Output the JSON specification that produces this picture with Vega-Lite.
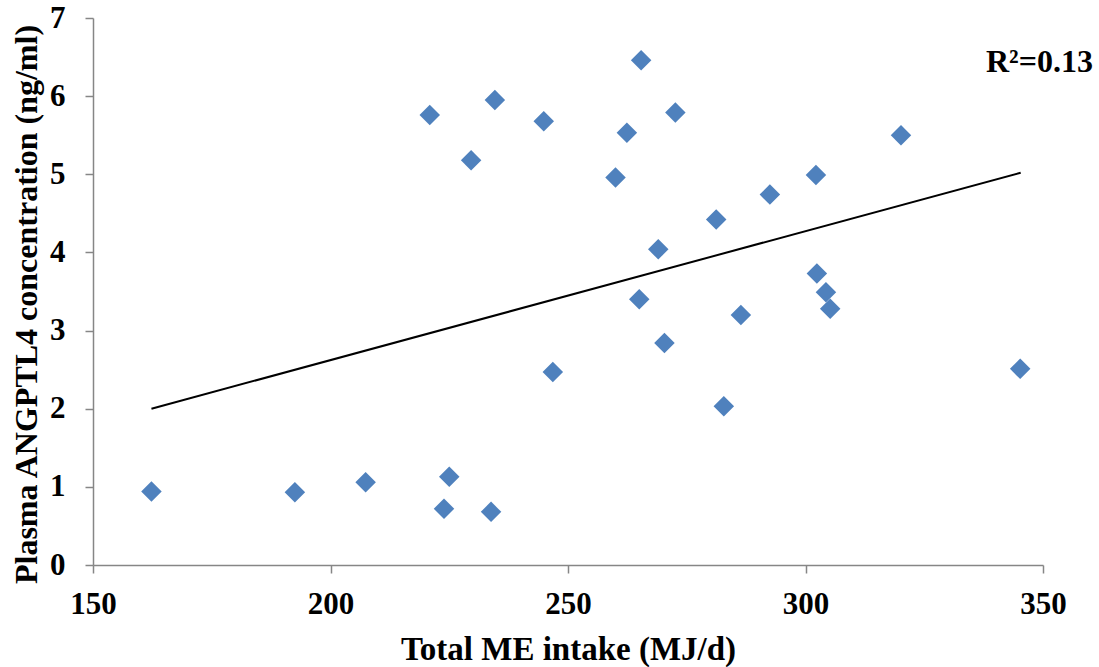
{
  "$schema": "https://vega.github.io/schema/vega-lite/v6.json",
  "width": 950,
  "height": 547,
  "autosize": {"type": "none"},
  "padding": {"left": 93, "top": 18, "right": 56, "bottom": 102},
  "background": "white",
  "datasets": {
    "points": [
      {"x": 162.3, "y": 0.94},
      {"x": 192.5, "y": 0.93},
      {"x": 207.4, "y": 1.06},
      {"x": 225.0, "y": 1.13},
      {"x": 223.9, "y": 0.72},
      {"x": 233.8, "y": 0.68},
      {"x": 220.9, "y": 5.76},
      {"x": 229.6, "y": 5.18},
      {"x": 234.6, "y": 5.95},
      {"x": 244.9, "y": 5.68},
      {"x": 246.8, "y": 2.47},
      {"x": 260.0, "y": 4.96},
      {"x": 262.4, "y": 5.53},
      {"x": 265.4, "y": 6.46},
      {"x": 265.0, "y": 3.40},
      {"x": 269.0, "y": 4.04},
      {"x": 270.3, "y": 2.84},
      {"x": 272.6, "y": 5.79},
      {"x": 281.2, "y": 4.42},
      {"x": 282.8, "y": 2.03},
      {"x": 286.4, "y": 3.20},
      {"x": 292.5, "y": 4.74},
      {"x": 302.2, "y": 4.99},
      {"x": 302.4, "y": 3.73},
      {"x": 304.3, "y": 3.49},
      {"x": 305.2, "y": 3.28},
      {"x": 320.1, "y": 5.50},
      {"x": 345.2, "y": 2.51}
    ],
    "trend": [
      {"x": 162.3, "y": 2.00},
      {"x": 345.3, "y": 5.02}
    ],
    "note": [
      {"x": 360.5, "y": 6.44, "label": "R²=0.13"}
    ]
  },
  "layer": [
    {
      "data": {"name": "trend"},
      "mark": {"type": "line", "color": "black", "strokeWidth": 2},
      "encoding": {
        "x": {
          "field": "x", "type": "quantitative",
          "scale": {"domain": [150, 350], "nice": false, "zero": false},
          "axis": {"values": [150, 200, 250, 300, 350], "format": "d", "labelFlush": false, "title": "Total ME intake (MJ/d)", "labelPadding": 16, "titlePadding": 14, "titleFontSize": 33}
        },
        "y": {
          "field": "y", "type": "quantitative",
          "scale": {"domain": [0, 7], "nice": false},
          "axis": {"values": [0, 1, 2, 3, 4, 5, 6, 7], "format": "d", "labelFlush": false, "title": "Plasma ANGPTL4 concentration (ng/ml)", "labelPadding": 20, "titlePadding": 6, "titleY": 286, "titleFontSize": 32}
        }
      }
    },
    {
      "data": {"name": "points"},
      "mark": {"type": "point", "shape": "diamond", "filled": true, "size": 420, "color": "#4F81BD", "opacity": 1, "strokeWidth": 0},
      "encoding": {
        "x": {"field": "x", "type": "quantitative"},
        "y": {"field": "y", "type": "quantitative"}
      }
    },
    {
      "data": {"name": "note"},
      "mark": {"type": "text", "align": "right", "baseline": "middle", "font": "Liberation Serif", "fontWeight": "bold", "fontSize": 32, "color": "black"},
      "encoding": {
        "x": {"field": "x", "type": "quantitative"},
        "y": {"field": "y", "type": "quantitative"},
        "text": {"field": "label"}
      }
    }
  ],
  "config": {
    "view": {"stroke": null},
    "axis": {
      "grid": false,
      "domainColor": "#868686",
      "domainWidth": 1.5,
      "tickColor": "#868686",
      "tickWidth": 1.5,
      "tickSize": 8,
      "labelFont": "Liberation Serif",
      "labelFontWeight": "bold",
      "labelFontSize": 31,
      "labelColor": "black",
      "titleFont": "Liberation Serif",
      "titleFontWeight": "bold",
      "titleColor": "black"
    }
  }
}
